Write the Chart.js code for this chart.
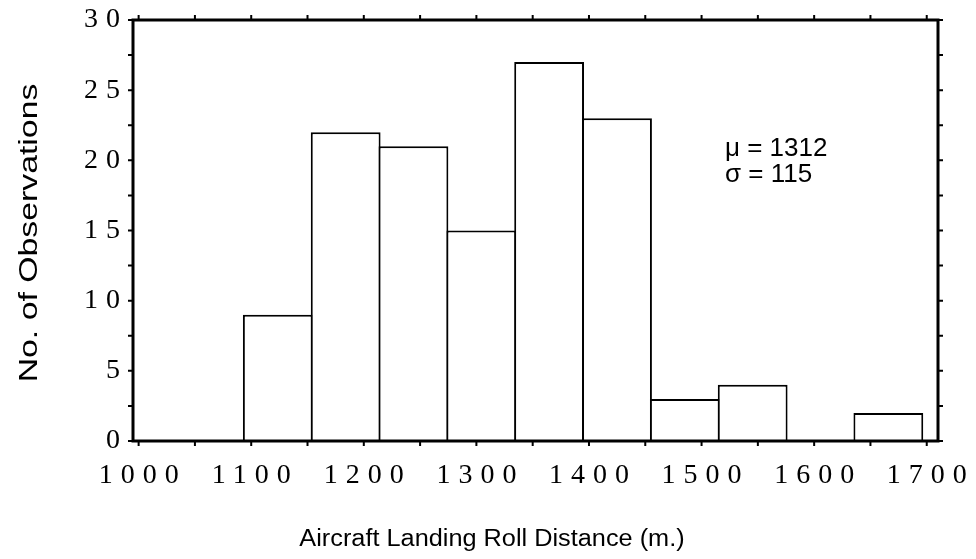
<!DOCTYPE html>
<html>
<head>
<meta charset="utf-8">
<script src="https://cdn.jsdelivr.net/npm/chart.js@4.4.1/dist/chart.umd.min.js"></script>
<style>
  html, body { margin: 0; padding: 0; background: #fff; }
  #wrap { width: 976px; height: 559px; }
</style>
</head>
<body>
<div id="wrap"><canvas id="hist"></canvas></div>
<script>
// histogram bins (centre of each 60 m bin) and counts
const binCenters = [1123.6, 1183.9, 1244.1, 1304.4, 1364.6, 1424.9, 1485.1, 1545.4, 1605.6, 1665.9]
const counts = [9, 22, 21, 15, 27, 23, 3, 4, 0, 2]

const xTicks = [1000, 1100, 1200, 1300, 1400, 1500, 1600, 1700]
const xMinor = [1050, 1150, 1250, 1350, 1450, 1550, 1650]
const yTicks = [0, 5, 10, 15, 20, 25, 30]
const yMinor = [2.5, 7.5, 12.5, 17.5, 22.5, 27.5]

const xTitle = 'Aircraft Landing Roll Distance (m.)'
const yTitle = 'No. of Observations'
const statsText = ['\u03BC = 1312', '\u03C3 = 115']

// frame, ticks on all four sides, axis titles and the stats note
const framePlugin = {
    id: 'frame',
    beforeDraw(chart) {
        // the old typewriter-ish tick numbers are widely spaced
        chart.ctx.letterSpacing = '8px'
    },
    afterDraw(chart) {
        let ctx = chart.ctx
        let a = chart.chartArea
        let xs = chart.scales.x
        let ys = chart.scales.y
        ctx.save()
        ctx.letterSpacing = '0px'
        ctx.strokeStyle = '#000'
        ctx.lineWidth = 3
        ctx.strokeRect(a.left, a.top, a.right - a.left, a.bottom - a.top)

        ctx.lineWidth = 2
        ctx.beginPath()
        xTicks.concat(xMinor).forEach(v => {
            let px = xs.getPixelForValue(v)
            ctx.moveTo(px, a.bottom); ctx.lineTo(px, a.bottom + 5)
            ctx.moveTo(px, a.top); ctx.lineTo(px, a.top - 5)
        })
        yTicks.concat(yMinor).forEach(v => {
            let py = ys.getPixelForValue(v)
            ctx.moveTo(a.left, py); ctx.lineTo(a.left - 5, py)
            ctx.moveTo(a.right, py); ctx.lineTo(a.right + 5, py)
        })
        ctx.stroke()

        ctx.fillStyle = '#000'
        ctx.textAlign = 'center'
        ctx.textBaseline = 'alphabetic'

        // x title
        ctx.save()
        ctx.font = '23px "Liberation Sans", Arial, sans-serif'
        ctx.translate(492, 546)
        ctx.scale(1.1, 1)
        ctx.fillText(xTitle, 0, 0)
        ctx.restore()

        // y title
        ctx.save()
        ctx.font = '26px "Liberation Sans", Arial, sans-serif'
        ctx.translate(37, 233)
        ctx.rotate(-Math.PI / 2)
        ctx.scale(1.3, 1)
        ctx.fillText(yTitle, 0, 0)
        ctx.restore()

        ctx.font = '26px "Liberation Sans", Arial, sans-serif'
        ctx.textAlign = 'left'
        ctx.fillText(statsText[0], 725, 156)
        ctx.fillText(statsText[1], 725, 182)
        ctx.restore()
    }
}

let ctx = document.querySelector('#hist')
new Chart(ctx, {
    type: 'bar',
    data: {
        datasets: [{
            label: 'Observations',
            data: binCenters.map((c, i) => ({ x: c, y: counts[i] })),
            backgroundColor: '#fff',
            borderColor: '#000',
            borderWidth: 2,
            // a hair over 1 so neighbouring bars share one edge line
            barPercentage: 1.03,
            categoryPercentage: 1
        }]
    },
    options: {
        responsive: true,
        maintainAspectRatio: false,
        animation: false,
        layout: { padding: { top: 20, right: 38, left: 0, bottom: 0 } },
        plugins: {
            legend: { display: false },
            tooltip: { enabled: false }
        },
        scales: {
            x: {
                type: 'linear',
                offset: false,
                min: 995,
                max: 1710,
                afterBuildTicks: axis => { axis.ticks = xTicks.map(v => ({ value: v })) },
                afterFit: s => { s.height = 118 },
                grid: { display: false },
                border: { display: false },
                ticks: {
                    color: '#000',
                    padding: 10,
                    labelOffset: 4,
                    maxRotation: 0,
                    callback: v => String(v),
                    font: { family: '"Liberation Serif", "Times New Roman", serif', size: 28 }
                }
            },
            y: {
                min: 0,
                max: 30,
                afterBuildTicks: axis => { axis.ticks = yTicks.map(v => ({ value: v })) },
                afterFit: s => { s.width = 133 },
                grid: { display: false },
                border: { display: false },
                ticks: {
                    color: '#000',
                    padding: -3,
                    callback: v => String(v),
                    font: { family: '"Liberation Serif", "Times New Roman", serif', size: 28 }
                }
            }
        }
    },
    plugins: [framePlugin]
})
</script>
</body>
</html>
